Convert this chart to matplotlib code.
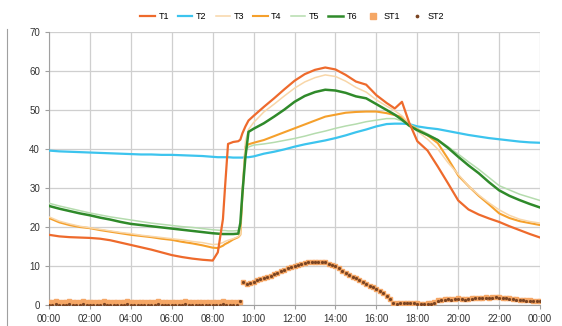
import matplotlib
matplotlib.use("Agg")
import matplotlib.pyplot as plt
from matplotlib.lines import Line2D
import numpy as np

plt.rcParams['font.family'] = ['Liberation Sans', 'DejaVu Sans']

# hours of the day for the temperature curves
hours = [0, 0.5, 1, 1.5, 2, 2.5, 3, 3.5, 4, 4.5, 5, 5.5, 6, 6.5, 7, 7.5, 8,
         8.25, 8.5, 8.6, 8.75, 9, 9.25, 9.35, 9.45, 9.6, 9.75,
         10, 10.5, 11, 11.5, 12, 12.5, 13, 13.5, 14, 14.5, 15, 15.5, 16, 16.5,
         16.9, 17.25, 17.6,
         18, 18.5, 19, 19.5, 20, 20.5, 21, 21.5, 22, 22.5, 23, 23.5, 24]

t1 = [18.0, 17.6, 17.4, 17.3, 17.2, 17.0, 16.6, 16.0, 15.4, 14.8, 14.2, 13.5, 12.8, 12.3, 11.9, 11.6, 11.4,
      13.5, 22.0, 30.0, 41.3, 41.8, 42.0, 42.4, 44.0, 45.8, 47.3,
      48.5, 50.8, 53.0, 55.3, 57.5, 59.2, 60.3, 60.9, 60.4, 59.0, 57.3, 56.5, 53.8, 51.8,
      50.4, 52.1, 46.8,
      42.0, 39.6, 35.5, 31.2, 26.8, 24.5, 23.2, 22.2, 21.3, 20.2, 19.2, 18.2, 17.3]
t2 = [39.6, 39.4, 39.3, 39.2, 39.1, 39.0, 38.9, 38.8, 38.7, 38.6, 38.6, 38.5, 38.5, 38.4, 38.3, 38.2, 38.0,
      37.9, 37.9, 37.9, 37.9, 37.8, 37.8, 37.8, 37.8, 37.9, 37.9,
      38.1, 38.8, 39.3, 39.9, 40.6, 41.2, 41.7, 42.2, 42.8, 43.5, 44.3, 45.0, 45.8, 46.4,
      46.5, 46.5, 46.4,
      45.8, 45.4, 45.1, 44.6, 44.1, 43.6, 43.2, 42.8, 42.5, 42.2, 41.9, 41.7, 41.6]
t3 = [22.6, 21.5, 20.8, 20.2, 19.8, 19.4, 19.0, 18.6, 18.3, 17.9, 17.6, 17.3, 17.0, 16.7, 16.3, 16.0, 15.5,
      15.6, 16.0, 16.3, 16.6, 17.0, 17.5, 18.0, 30.0, 42.0, 45.0,
      46.8, 49.5, 51.5, 53.6, 55.6, 57.2, 58.3, 59.0, 58.6, 57.4, 55.8, 54.6, 52.6, 51.0,
      49.8, 48.5, 46.5,
      44.6, 42.5, 40.0, 36.5, 33.5, 30.5, 28.2, 26.2, 24.4, 23.0, 22.0, 21.4, 21.0]
t4 = [22.3, 21.2, 20.5, 20.0, 19.7, 19.2, 18.8, 18.4, 18.0, 17.7, 17.4, 17.0, 16.7, 16.2, 15.8, 15.3, 14.7,
      14.6, 15.2, 15.6, 16.0, 16.8, 17.4, 18.0, 28.0, 40.6, 41.2,
      41.6, 42.3, 43.3, 44.3, 45.3, 46.3, 47.3, 48.3, 48.8, 49.3, 49.5, 49.6, 49.6, 49.2,
      48.7, 48.2, 46.2,
      45.0, 43.5, 41.5, 37.5, 33.2, 30.5, 28.0, 25.8, 23.5, 22.3, 21.5, 21.0, 20.5]
t5 = [26.1, 25.4, 24.8, 24.2, 23.6, 23.1, 22.6, 22.2, 21.8, 21.4, 21.0, 20.7, 20.4, 20.1, 19.9, 19.6, 19.3,
      19.2, 19.1, 19.1, 19.0, 19.0, 19.1, 19.5, 29.0, 39.5, 40.5,
      41.0, 41.3, 41.7, 42.2, 42.7, 43.3, 44.0, 44.6, 45.3, 45.9, 46.4, 47.0, 47.4, 47.8,
      47.8, 47.2, 46.4,
      45.3, 43.9, 42.4, 40.6, 38.7, 36.7, 34.8, 32.7, 30.6, 29.5, 28.4, 27.6, 26.8]
t6 = [25.4, 24.7, 24.1, 23.5, 23.0, 22.4, 21.9, 21.3, 20.8, 20.5, 20.2, 19.9, 19.6, 19.3, 19.0, 18.7, 18.4,
      18.3, 18.2, 18.2, 18.2, 18.2, 18.3, 21.0, 28.5, 38.0, 44.4,
      45.2, 46.6, 48.3, 50.1, 52.1, 53.6, 54.6, 55.2, 55.0, 54.4, 53.5, 53.0, 51.5, 50.0,
      48.8, 47.5, 46.0,
      44.8, 43.6, 42.3, 40.3, 38.0, 35.8, 33.8, 31.5, 29.4, 28.0, 26.9, 25.9, 25.0]

# 10-minute samples, 00:00 .. 24:00
st1 = [0.8, 0.7, 0.9, 0.8, 0.7, 0.8,
       0.9, 0.8, 0.7, 0.8, 0.9, 0.8,
       0.7, 0.8, 0.8, 0.7, 0.9, 0.8,
       0.8, 0.7, 0.7, 0.8, 0.8, 0.9,
       0.8, 0.8, 0.7, 0.7, 0.8, 0.8,
       0.7, 0.8, 0.9, 0.8, 0.7, 0.7,
       0.8, 0.8, 0.7, 0.8, 0.9, 0.8,
       0.7, 0.8, 0.8, 0.8, 0.7, 0.8,
       0.8, 0.7, 0.8, 0.9, 0.8, 0.8,
       0.7, 0.8, 0.7, 6.0, 5.5, 5.7,
       6.0, 6.3, 6.6, 6.9, 7.2, 7.5,
       7.9, 8.3, 8.7, 9.1, 9.4, 9.7,
       10.0, 10.3, 10.6, 10.8, 11.0, 11.1,
       11.1, 11.0, 11.0, 10.9, 10.6, 10.3,
       10.0, 9.5, 8.8, 8.1, 7.6, 7.2,
       6.8, 6.4, 5.9, 5.4, 5.0, 4.5,
       4.0, 3.5, 3.0, 2.4, 1.6, 0.6,
       0.4, 0.5, 0.6, 0.5, 0.6, 0.5,
       0.4, 0.3, 0.3, 0.4, 0.4, 0.7,
       1.2, 1.4, 1.5, 1.6, 1.5, 1.6,
       1.7, 1.6, 1.5, 1.6, 1.7, 1.8,
       1.8, 1.9, 2.0, 1.9, 2.0, 2.1,
       2.0, 1.9, 1.8, 1.7, 1.6, 1.5,
       1.4, 1.3, 1.2, 1.2, 1.1, 1.1,
       1.1]
st2 = [0.1, 0.1, 0.2, 0.1, 0.1, 0.1,
       0.2, 0.1, 0.1, 0.1, 0.2, 0.1,
       0.1, 0.1, 0.1, 0.1, 0.2, 0.1,
       0.1, 0.1, 0.1, 0.1, 0.1, 0.2,
       0.1, 0.1, 0.1, 0.1, 0.1, 0.1,
       0.1, 0.1, 0.2, 0.1, 0.1, 0.1,
       0.1, 0.1, 0.1, 0.1, 0.2, 0.1,
       0.1, 0.1, 0.1, 0.1, 0.1, 0.1,
       0.1, 0.1, 0.1, 0.2, 0.1, 0.1,
       0.1, 0.1, 0.9, 6.0, 5.5, 5.7,
       6.0, 6.3, 6.6, 6.9, 7.2, 7.5,
       7.9, 8.3, 8.7, 9.1, 9.4, 9.7,
       10.0, 10.3, 10.6, 10.8, 11.0, 11.1,
       11.1, 11.0, 11.0, 10.9, 10.6, 10.3,
       10.0, 9.5, 8.8, 8.1, 7.6, 7.2,
       6.8, 6.4, 5.9, 5.4, 5.0, 4.5,
       4.0, 3.5, 3.0, 2.4, 1.6, 0.6,
       0.3, 0.4, 0.5, 0.4, 0.5, 0.4,
       0.3, 0.2, 0.2, 0.3, 0.3, 0.6,
       1.1, 1.3, 1.4, 1.5, 1.4, 1.5,
       1.6, 1.5, 1.4, 1.5, 1.6, 1.7,
       1.7, 1.8, 1.9, 1.8, 1.9, 2.0,
       1.9, 1.8, 1.7, 1.6, 1.5, 1.4,
       1.3, 1.2, 1.1, 1.1, 1.0, 1.0,
       1.0]
st_hours = np.arange(len(st1)) / 6.0

xticks = list(range(0, 25, 2))
xlabels = ["00:00", "02:00", "04:00", "06:00", "08:00", "10:00", "12:00",
           "14:00", "16:00", "18:00", "20:00", "22:00", "00:00"]

fig = plt.figure(figsize=(5.62, 3.26), dpi=100)
ax = fig.add_axes([0.0872, 0.0644, 0.8738, 0.8374])

ax.plot(hours, t2, color='#3cc4ee', lw=1.6, label='T2', zorder=3)
ax.plot(hours, t5, color='#b5dcae', lw=1.1, label='T5', zorder=3)
ax.plot(hours, t4, color='#f5a02c', lw=1.5, label='T4', zorder=4)
ax.plot(hours, t3, color='#f8d6a8', lw=1.1, label='T3', zorder=4)
ax.plot(hours, t6, color='#2f8a2a', lw=1.8, label='T6', zorder=5)
ax.plot(hours, t1, color='#ee6a2c', lw=1.6, label='T1', zorder=6)
ax.plot(st_hours, st1, ls='none', marker='s', ms=2.8, color='#f5a766',
        mec='#f5a766', label='ST1', zorder=6)
ax.plot(st_hours, st2, ls='none', marker='o', ms=1.3, color='#7a4422',
        label='ST2', zorder=7)

ax.set_xlim(0, 24)
ax.set_ylim(0, 70)
ax.set_xticks(xticks)
ax.set_xticklabels(xlabels)
ax.set_yticks(range(0, 71, 10))
ax.grid(True, color='#cfcfcf', lw=0.9)
ax.set_axisbelow(True)
for s in ['top', 'right']:
    ax.spines[s].set_visible(False)
for s in ['left', 'bottom']:
    ax.spines[s].set_color('#a0a0a0')
ax.tick_params(colors='#a0a0a0', labelcolor='#333333', labelsize=7, length=3, width=0.8)

order = ['T1', 'T2', 'T3', 'T4', 'T5', 'T6', 'ST1', 'ST2']
h, l = ax.get_legend_handles_labels()
hd = dict(zip(l, h))
fig.legend([hd[k] for k in order], order, loc='center', bbox_to_anchor=(0.52, 0.948),
           ncol=8, frameon=False, fontsize=6.5, handlelength=1.6, columnspacing=1.0,
           handletextpad=0.4, markerscale=1.3)

# edge of the neighbouring chart at the far left
fig.add_artist(Line2D([7 / 562, 7 / 562], [0.0, 0.91], color='#a0a0a0', lw=0.8))

fig.savefig('out.png', dpi=100)
